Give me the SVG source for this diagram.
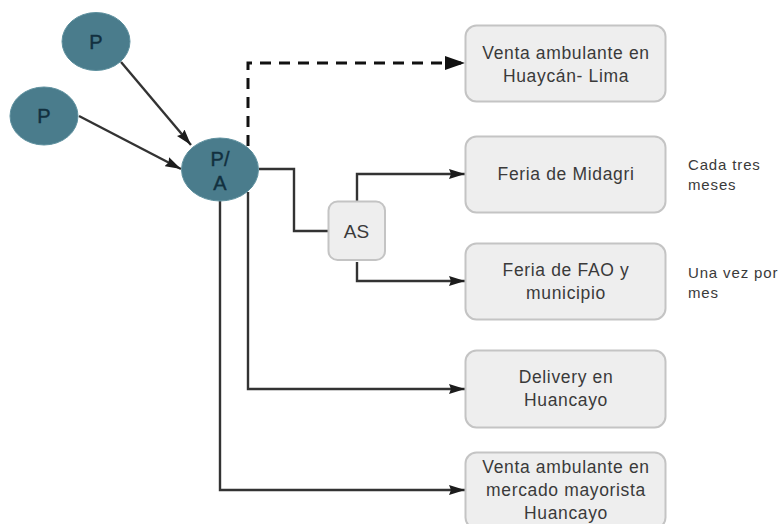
<svg xmlns="http://www.w3.org/2000/svg" width="784" height="524" viewBox="0 0 784 524">
<style>
.e{fill:#4a7c8c;stroke:#5f919f;stroke-width:1}
.b{fill:#eeeeee;stroke:#c4c4c4;stroke-width:2}
.l{fill:none;stroke:#333333;stroke-width:2.400}
text{font-family:"Liberation Sans",Arial,sans-serif;fill:#3a3a3a;text-anchor:middle;font-size:17.500px;letter-spacing:.65px}
.p{fill:#12303f;stroke:#12303f;stroke-width:.4;font-size:20px;letter-spacing:0}
.n{text-anchor:start;font-size:15px;letter-spacing:.85px}
</style>
<defs>
<marker id="a" markerUnits="userSpaceOnUse" markerWidth="16" markerHeight="10" refX="16" refY="5" orient="auto"><path d="M0 0L16 5L0 10L2 5Z" fill="#1c1c1c"/></marker>
<marker id="d" markerUnits="userSpaceOnUse" markerWidth="20" markerHeight="14" refX="20" refY="7" orient="auto"><path d="M0 0L20 7L0 14Z" fill="#111111"/></marker>
</defs>
<rect width="784" height="524" fill="#ffffff"/>
<g id="connectors">
<path class="l" d="M121 62L191 145" marker-end="url(#a)"/>
<path class="l" d="M79 116L181 169" marker-end="url(#a)"/>
<path d="M248 146V63H465" fill="none" stroke="#111111" stroke-width="3" stroke-dasharray="11 8" marker-end="url(#d)"/>
<path class="l" d="M259 169H294V231H328"/>
<path class="l" d="M357 201V174H465" marker-end="url(#a)"/>
<path class="l" d="M357 262V281H465" marker-end="url(#a)"/>
<path class="l" d="M248 192V389H465" marker-end="url(#a)"/>
<path class="l" d="M220 201V490H465" marker-end="url(#a)"/>
</g>
<g id="node-p1"><ellipse class="e" cx="96" cy="41.500" rx="34" ry="29"/><text class="p" x="96" y="49">P</text></g>
<g id="node-p2"><ellipse class="e" cx="44" cy="116" rx="34" ry="29"/><text class="p" x="44" y="123">P</text></g>
<g id="node-pa"><ellipse class="e" cx="220" cy="169.500" rx="38.500" ry="31.500"/><text class="p" x="220" y="166">P/</text><text class="p" x="220" y="190">A</text></g>
<g id="node-as"><rect class="b" x="328.500" y="201.500" width="56.500" height="58.500" rx="9"/><text x="356.500" y="238" style="font-size:19px;letter-spacing:0">AS</text></g>
<g id="node-huaycan"><rect class="b" x="465.500" y="25.500" width="200" height="76" rx="11"/><text x="566" y="59">Venta ambulante en</text><text x="566" y="82">Huaycán- Lima</text></g>
<g id="node-midagri"><rect class="b" x="465.500" y="136.500" width="200" height="76" rx="11"/><text x="566" y="180">Feria de Midagri</text></g>
<g id="node-fao"><rect class="b" x="465.500" y="243.500" width="200" height="76" rx="11"/><text x="566" y="276">Feria de FAO y</text><text x="566" y="299">municipio</text></g>
<g id="node-delivery"><rect class="b" x="465.500" y="350.500" width="200" height="77" rx="11"/><text x="566" y="383">Delivery en</text><text x="566" y="406">Huancayo</text></g>
<g id="node-mayorista"><rect class="b" x="465.500" y="452.500" width="200" height="76" rx="11"/><text x="566" y="473">Venta ambulante en</text><text x="566" y="496">mercado mayorista</text><text x="566" y="519">Huancayo</text></g>
<g id="notes"><text class="n" x="688" y="170">Cada tres</text><text class="n" x="688" y="190">meses</text><text class="n" x="688" y="278">Una vez por</text><text class="n" x="688" y="298">mes</text></g>
</svg>
